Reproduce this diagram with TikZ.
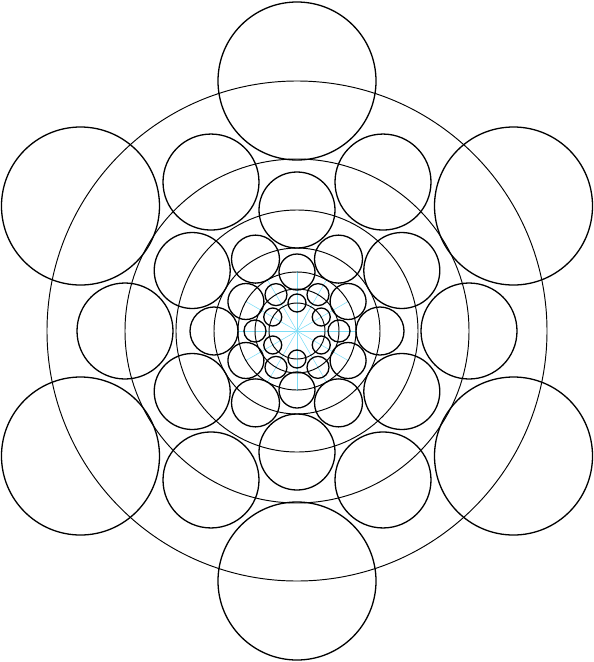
\documentclass[tikz,border=0pt]{standalone}
\definecolor{raycol}{RGB}{125,220,245}
\begin{document}
\begin{tikzpicture}[x=1pt,y=-1pt,
  ring/.style={draw=black,line width=0.95pt},
  disc/.style={draw=black,line width=1.3pt},
  ray/.style={draw=raycol,line width=0.55pt}]
\useasboundingbox (0,0) rectangle (594,662);
\coordinate (O) at (297,331);
\foreach \a in {0,30,...,330} \draw[ray] (O) -- ++(\a:60);
\foreach \d/\r/\o in {250/79/90, 172/48/0, 121/38/90, 83/24/0, 59/18/90, 42/11/0, 28/9/90} {
  \draw[ring] (O) circle[radius=\d pt];
  \foreach \k in {0,...,5} \draw[disc] (O) ++(\o+60*\k:\d) circle[radius=\r pt];
}
\end{tikzpicture}
\end{document}
